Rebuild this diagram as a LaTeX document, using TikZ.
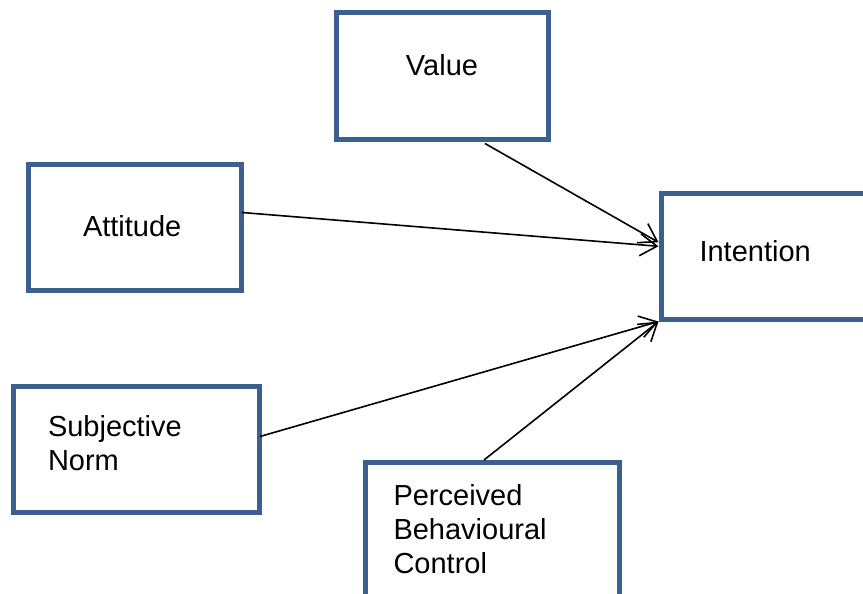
\documentclass[tikz,border=0pt]{standalone}
\usepackage{fontspec}
\setmainfont{Liberation Sans}
\usepackage{tikz}
\usetikzlibrary{arrows.meta}
\definecolor{boxblue}{HTML}{3B5F8F}
\tikzstyle{factor} = [rectangle, draw=boxblue, line width=5pt, minimum height=126pt, inner sep=0pt, font=\fontsize{29}{34}\selectfont]
\tikzstyle{arrow} = [line width=1.6pt, -{Straight Barb[length=17pt, width=22pt, line width=1.6pt]}]

\begin{document}
\begin{tikzpicture}[x=1pt, y=-1pt]
\useasboundingbox (0,0) rectangle (863,594);
\clip (0,0) rectangle (863,594);
\node (value) [factor, minimum width=212pt, minimum height=126.5pt, text height=21pt, text depth=21pt] at (442,75.75) {Value};
\node (attitude) [factor, minimum width=213pt, text width=104pt, align=left, text depth=4pt] at (135,227.5) {Attitude};
\node (intention) [factor, minimum width=215pt, minimum height=125.5pt, text width=138pt, align=left, text depth=11.6pt] at (768.5,256.3) {Intention};
\node (norm) [factor, minimum width=246pt, text width=177pt, align=left, text height=21pt, text depth=48pt] at (136.5,449.5) {Subjective\\Norm};
\node (pbc) [factor, minimum width=254pt, minimum height=136pt, text width=197pt, align=left, text height=21pt, text depth=72pt] at (492,530.5) {Perceived\\Behavioural\\Control};

\draw [arrow] ([xshift=43pt, yshift=-2pt]value.south) -- ([yshift=14pt]intention.west);
\draw [arrow] ([xshift=-2pt, yshift=15pt]attitude.east) -- ([yshift=10pt]intention.west);
\draw [arrow] ([xshift=-2pt, yshift=13pt]norm.east) -- (intention.south west);
\draw [arrow] ([xshift=-8pt]pbc.north) -- (intention.south west);
\end{tikzpicture}
\end{document}
